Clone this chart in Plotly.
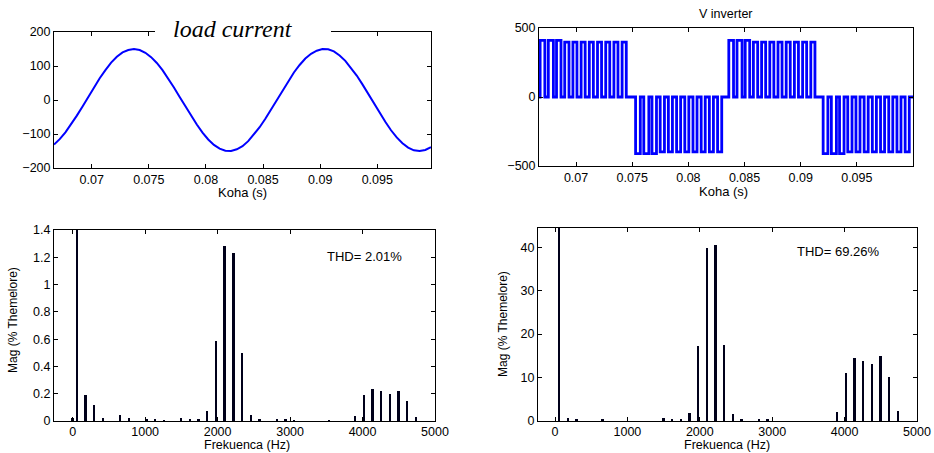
import plotly.graph_objects as go

# ---------------- data ----------------
# load current samples (time in s, current in A)
t_start = 0.0667
t_step = 0.0005
load_current = [-131, -115, -95, -72, -46, -19, 10, 38, 64, 88, 110, 127, 140, 147, 150,
                147, 139, 126, 109, 88, 64, 37, 9, -19, -47, -72, -96, -116, -132, -143,
                -149, -150, -145, -136, -121, -102, -80, -55, -28, 0, 28, 56, 81, 103, 122,
                136, 145, 150, 149, 143, 131, 115, 95, 72, 46, 18, -10, -38, -64, -89,
                -110, -127, -140, -148, -150, -147, -139]
current_time = [t_start + i * t_step for i in range(len(load_current))]

# inverter voltage: half-cycle start times, polarity, pulse period and pulse widths
half_cycle_start = [0.0668, 0.0753, 0.0836, 0.0920]
half_cycle_sign = [1, -1, 1, -1]
pulse_period = 0.00073
pulse_width = [0.00042, 0.00045, 0.00040, 0.00038, 0.00036, 0.00036, 0.00036, 0.00036,
               0.00036, 0.00036, 0.00037]
pulse_level = [410, 410, 410, 398, 398, 398, 398, 398, 398, 398, 398]

# current spectrum (Hz, % of fundamental)
i_freq = [0, 60, 180, 300, 420, 660, 780, 1020, 1140, 1260, 1500, 1620, 1740, 1860, 1980, 2100,
          2220, 2340, 2460, 2580, 2820, 2940, 3060, 3540, 3900, 4020, 4140, 4260, 4380, 4500,
          4620, 4740]
i_mag = [0.02, 100, 0.19, 0.12, 0.02, 0.045, 0.02, 0.01, 0.008, 0.005, 0.025, 0.012, 0.018,
         0.075, 0.59, 1.28, 1.235, 0.50, 0.045, 0.018, 0.01, 0.01, 0.005, 0.005, 0.038, 0.19,
         0.235, 0.22, 0.20, 0.22, 0.15, 0.03]

# voltage spectrum (Hz, % of fundamental)
v_freq = [60, 180, 300, 660, 1500, 1620, 1740, 1860, 1980, 2100, 2220, 2340, 2460, 2580, 2820,
          2940, 3900, 4020, 4140, 4260, 4380, 4500, 4620, 4740]
v_mag = [100, 0.6, 0.5, 0.3, 0.6, 0.4, 0.5, 1.9, 17.3, 39.7, 40.6, 17.4, 1.7, 0.4, 0.3, 0.3,
         2.1, 11.1, 14.5, 13.7, 13.2, 14.9, 10.2, 2.4]

time_ticks = [0.07, 0.075, 0.08, 0.085, 0.09, 0.095]
time_labels = ["0.07", "0.075", "0.08", "0.085", "0.09", "0.095"]
freq_ticks = [0, 1000, 2000, 3000, 4000, 5000]
i_ticks = [0, 0.2, 0.4, 0.6, 0.8, 1, 1.2, 1.4]
v_ticks = [0, 10, 20, 30, 40]
thd_current = "THD= 2.01%"
thd_voltage = "THD= 69.26%"
time_title = "Koha (s)"
freq_title = "Frekuenca (Hz)"
mag_title = "Mag (% Themelore)"

# build PWM step waveform from pulse data
v_t = [0.0660]
v_y = [0]
for start, sgn in zip(half_cycle_start, half_cycle_sign):
    for k, (w, lv) in enumerate(zip(pulse_width, pulse_level)):
        ts = start + k * pulse_period
        te = ts + w
        v_t += [ts, ts, te, te]
        v_y += [0, sgn * lv, sgn * lv, 0]
v_t.append(0.1005)
v_y.append(0)

# ---------------- figure ----------------
W, H = 934, 453
FONT = "Liberation Sans, Arial, sans-serif"
fig = go.Figure()

fig.add_trace(go.Scatter(x=current_time, y=load_current, mode="lines",
                         line=dict(color="#0000ff", width=2), xaxis="x", yaxis="y",
                         showlegend=False))
fig.add_trace(go.Scatter(x=v_t, y=v_y, mode="lines",
                         line=dict(color="#0000ff", width=2.8), xaxis="x2", yaxis="y2",
                         showlegend=False))
fig.add_trace(go.Bar(x=i_freq, y=i_mag, width=26, marker=dict(color="#00001a", line=dict(width=0)),
                     xaxis="x3", yaxis="y3", showlegend=False))
fig.add_trace(go.Bar(x=v_freq, y=v_mag, width=26, marker=dict(color="#00001a", line=dict(width=0)),
                     xaxis="x4", yaxis="y4", showlegend=False))


def px_dom_x(a, b):
    return [a / W, b / W]


def px_dom_y(top, bottom):
    return [1 - bottom / H, 1 - top / H]


common = dict(showline=True, linecolor="black", linewidth=1, mirror="ticks",
              ticks="inside", ticklen=4, tickcolor="black", showgrid=False,
              zeroline=False, automargin=False,
              tickfont=dict(family=FONT, size=12.5, color="black"))
xfreq_common = dict(common, tickfont=dict(family=FONT, size=12.5, color="black"),
                    ticklabelstandoff=-1)

fig.update_layout(
    template="none",
    width=W, height=H, margin=dict(l=0, r=0, t=0, b=0, autoexpand=False),
    paper_bgcolor="white", plot_bgcolor="white", bargap=0,
    font=dict(family=FONT, color="black"),
    xaxis=dict(domain=px_dom_x(54, 431), anchor="y", range=[0.0667, 0.0997],
               tickvals=time_ticks, ticktext=time_labels, **common),
    yaxis=dict(domain=px_dom_y(32, 168), anchor="x", range=[-200, 200],
               tickvals=[-200, -100, 0, 100, 200], **common),
    xaxis2=dict(domain=px_dom_x(539, 913), anchor="y2", range=[0.0667, 0.1],
                tickvals=time_ticks, ticktext=time_labels, **common),
    yaxis2=dict(domain=px_dom_y(28, 166), anchor="x2", range=[-500, 500],
                tickvals=[-500, 0, 500], **common),
    xaxis3=dict(domain=px_dom_x(54, 435), anchor="y3", range=[-258, 5000],
                tickvals=freq_ticks, **xfreq_common),
    yaxis3=dict(domain=px_dom_y(230, 421), anchor="x3", range=[0, 1.4],
                tickvals=i_ticks, **common),
    xaxis4=dict(domain=px_dom_x(538, 917), anchor="y4", range=[-235, 5000],
                tickvals=freq_ticks, **xfreq_common),
    yaxis4=dict(domain=px_dom_y(228, 421), anchor="x4", range=[0, 44.4],
                tickvals=v_ticks, **common),
)

# white gap in top border behind the italic title
fig.add_shape(type="rect", xref="paper", yref="paper",
              x0=155 / W, x1=331 / W, y0=1 - 36 / H, y1=1 - 26 / H,
              fillcolor="white", line=dict(width=0), layer="above")


def label(text, xp, yp, size=12.5, angle=0, xanchor="center", yanchor="middle",
          family=FONT, pad=1):
    fig.add_annotation(text=text, xref="paper", yref="paper", x=xp / W, y=1 - yp / H,
                       xanchor=xanchor, yanchor=yanchor, showarrow=False, textangle=angle,
                       borderpad=pad, font=dict(family=family, size=size, color="black"))


label("<i>load current</i>", 233, 29, size=24,
      family="Liberation Serif, Times New Roman, serif")
label("V inverter", 726, 14)
label(time_title, 242, 193, size=13)
label(time_title, 723, 192, size=13)
label(freq_title, 247, 453, size=12.5, yanchor="bottom", pad=0)
label(freq_title, 727, 453, size=12.5, yanchor="bottom", pad=0)
label(mag_title, 13, 320, size=12, angle=-90)
label(mag_title, 503, 324, size=12, angle=-90)
label(thd_current, 325, 256, size=13, xanchor="left")
label(thd_voltage, 795, 252, size=13, xanchor="left")

fig.write_html("out.html")
